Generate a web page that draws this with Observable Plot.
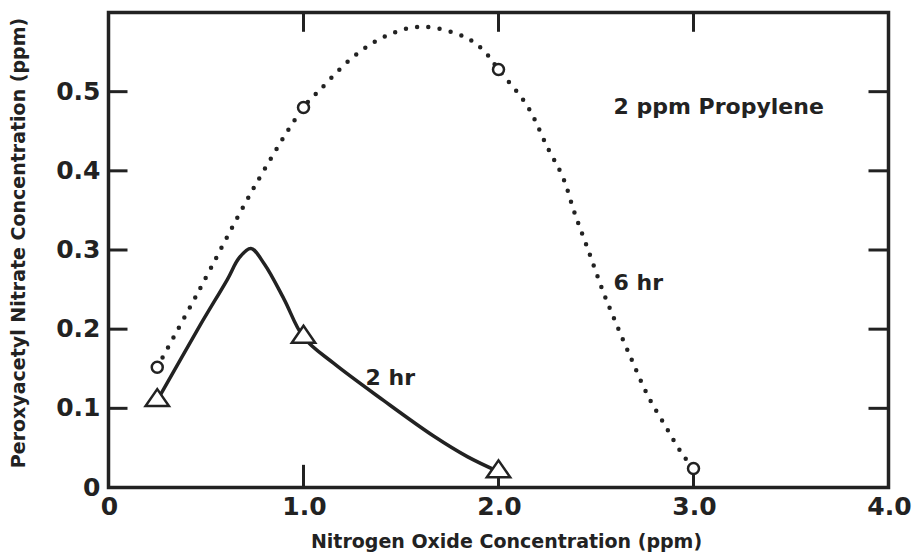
<!DOCTYPE html>
<html><head><meta charset="utf-8">
<script src="https://cdn.jsdelivr.net/npm/d3@7"></script>
<script src="https://cdn.jsdelivr.net/npm/@observablehq/plot@0.6"></script>
<style>
html,body{margin:0;padding:0;background:#fff;}
</style>
</head><body><div id="chart"></div>
<script>
// Axis ticks and labels
const xTicks = [0, 1, 2, 3, 4];
const xTickLabels = ["0", "1.0", "2.0", "3.0", "4.0"];
const yTicks = [0, 0.1, 0.2, 0.3, 0.4, 0.5];
const yTickLabels = ["0", "0.1", "0.2", "0.3", "0.4", "0.5"];
const innerXTicks = [1, 2, 3];
const innerYTicks = [0.1, 0.2, 0.3, 0.4, 0.5];
const xTitle = "Nitrogen Oxide Concentration (ppm)";
const yTitle = "Peroxyacetyl Nitrate Concentration (ppm)";

// Measured points (markers)
const nox6hr = [0.25, 1.0, 2.0, 3.0];
const pan6hr = [0.152, 0.48, 0.528, 0.024];
const nox2hr = [0.25, 1.0, 2.0];
const pan2hr = [0.11, 0.19, 0.02];

// Points
const curve2hrX = [0.25, 0.47, 0.61, 0.67, 0.73, 0.8, 0.9, 1.0, 1.154, 1.41, 1.667, 1.84, 2.0];
const curve2hrY = [0.11, 0.205, 0.263, 0.29, 0.302, 0.282, 0.238, 0.19, 0.157, 0.11, 0.065, 0.039, 0.02];
const curve6hrX = [0.25, 0.456, 0.744, 1.0, 1.087, 1.256, 1.42, 1.6, 1.82, 1.92, 2.0, 2.15, 2.25, 2.33, 2.39, 2.46, 2.54, 2.59, 2.68, 2.77, 2.86, 2.94, 3.0];
const curve6hrY = [0.152, 0.245, 0.378, 0.48, 0.503, 0.544, 0.570, 0.582, 0.57, 0.553, 0.528, 0.481, 0.43, 0.392, 0.347, 0.30, 0.245, 0.215, 0.163, 0.114, 0.076, 0.043, 0.024];

// Annotations
const annotText = ["2 ppm Propylene", "6 hr", "2 hr"];
const annotX = [2.59, 2.59, 1.318];
const annotY = [0.481, 0.259, 0.139];

const ink = "#222";
const zip = (xs, ys) => xs.map((x, i) => ({x, y: ys[i]}));
const curve2 = zip(curve2hrX, curve2hrY);
const curve6 = zip(curve6hrX, curve6hrY);
const pts2 = zip(nox2hr, pan2hr);
const pts6 = zip(nox6hr, pan6hr);
const annots = annotText.map((t, i) => ({t, x: annotX[i], y: annotY[i]}));

const flatTriangle = {
  draw(ctx, size) {
    const r = Math.sqrt(size / Math.PI);
    const hw = 1.375 * r, h = 2 * r;
    ctx.moveTo(0, -2 * h / 3);
    ctx.lineTo(hw, h / 3);
    ctx.lineTo(-hw, h / 3);
    ctx.closePath();
  }
};

const chart = Plot.plot({
  width: 912,
  height: 560,
  marginLeft: 108,
  marginRight: 24,
  marginTop: 12,
  marginBottom: 73,
  style: {fontFamily: "DejaVu Sans", fontWeight: "bold", color: ink, background: "white", fontSize: "25px"},
  x: {domain: [0, 4]},
  y: {domain: [0, 0.6]},
  marks: [
    Plot.axisX({ticks: xTicks, tickFormat: (d, i) => xTickLabels[i], tickSize: 0, tickPadding: 10, dx: 1, label: null, fontSize: 25}),
    Plot.axisY({ticks: yTicks, tickFormat: (d, i) => yTickLabels[i], tickSize: 0, tickPadding: 8, label: null, fontSize: 25}),
    Plot.ruleY(innerYTicks, {y: d => d, x1: 0, x2: 0.1, stroke: ink, strokeWidth: 3}),
    Plot.ruleY(innerYTicks, {y: d => d, x1: 3.9, x2: 4, stroke: ink, strokeWidth: 3}),
    Plot.ruleX(innerXTicks, {x: d => d, y1: 0, y2: 0.028, stroke: ink, strokeWidth: 3}),
    Plot.ruleX(innerXTicks, {x: d => d, y1: 0.575, y2: 0.6, stroke: ink, strokeWidth: 3}),
    Plot.frame({stroke: ink, strokeWidth: 3.5}),
    Plot.line(curve6, {x: "x", y: "y", curve: "catmull-rom", stroke: ink, strokeWidth: 4.5, strokeDasharray: "0 11.3", strokeLinecap: "round"}),
    Plot.line(curve2, {x: "x", y: "y", curve: "catmull-rom", stroke: ink, strokeWidth: 3.5}),
    Plot.dot(pts6, {x: "x", y: "y", r: 5.5, stroke: ink, strokeWidth: 2.5, fill: "white"}),
    Plot.dot(pts2, {x: "x", y: "y", r: 8.5, symbol: flatTriangle, stroke: ink, strokeWidth: 2.5, fill: "white"}),
    Plot.text(annots, {x: "x", y: "y", text: "t", textAnchor: "start", fontSize: 22, fill: ink}),
    Plot.text([xTitle], {frameAnchor: "bottom", dx: 8, dy: 60, text: d => d, textAnchor: "middle", fontSize: 19, fill: ink}),
    Plot.text([yTitle], {frameAnchor: "left", dx: -90, dy: -7, rotate: -90, text: d => d, textAnchor: "middle", fontSize: 19, fill: ink})
  ]
});
document.getElementById("chart").appendChild(chart);
</script>
</body></html>
